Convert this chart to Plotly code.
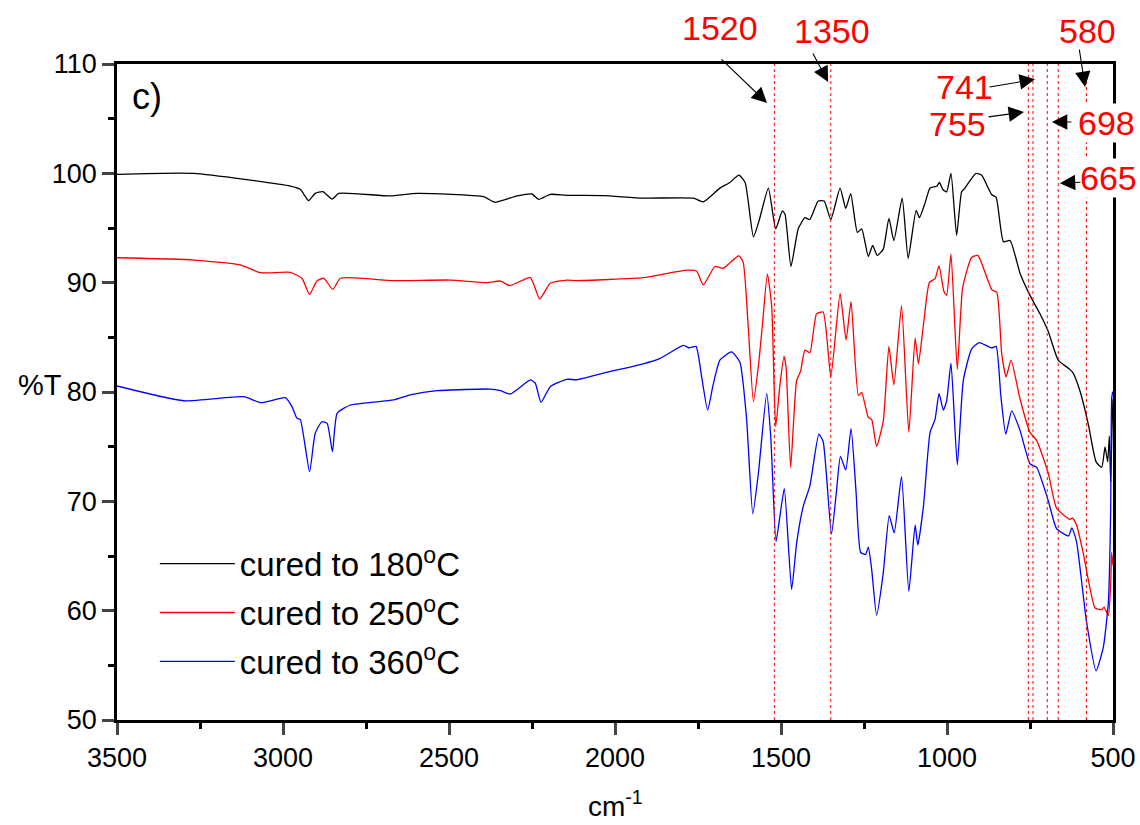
import plotly.graph_objects as go

# ---------------- data ----------------
black_x = [3500, 3269, 2978, 2948, 2923, 2903, 2880, 2852, 2832, 2677, 2596, 2396, 2361, 2295, 2250, 2230,
           2195, 2145, 2035, 1915, 1764, 1734, 1684, 1654, 1627, 1608, 1583, 1565, 1538, 1516, 1496, 1488,
           1470, 1448, 1428, 1413, 1388, 1370, 1350, 1322, 1305, 1290, 1270, 1257, 1237, 1224, 1210, 1192,
           1175, 1160, 1135, 1117, 1093, 1083, 1066, 1051, 1031, 1023, 1012, 1001, 988, 971, 956, 946, 913,
           896, 865, 852, 830, 810, 780, 750, 720, 695, 665, 630, 620, 599, 574, 551, 534, 524, 516, 511,
           507, 503, 500]
black_y = [99.91, 100.0, 98.84, 98.54, 97.5, 98.17, 98.32, 97.65, 98.17, 97.93, 98.17, 97.87, 97.35, 97.93,
           98.11, 97.62, 98.08, 97.99, 97.97, 97.73, 97.73, 97.39, 98.65, 99.16, 99.84, 99.16, 94.19, 95.78,
           98.65, 94.93, 96.56, 96.28, 91.48, 94.93, 95.94, 95.78, 97.47, 97.47, 95.78, 98.65, 96.79, 98.15,
           94.59, 94.93, 92.39, 93.41, 92.49, 93.07, 95.88, 93.85, 97.73, 92.22, 96.62, 95.94, 97.30, 98.65,
           98.82, 99.16, 98.5, 98.31, 100.0, 94.32, 98.31, 98.65, 100.0, 99.84, 98.04, 97.81, 93.75, 93.85,
           90.87, 88.84, 87.15, 85.53, 82.92, 82.07, 81.73, 80.04, 77.0, 73.61, 73.11, 74.97, 73.61, 75.97,
           71.75, 76.65, 79.36]

red_x = [3500, 3269, 3129, 3068, 2978, 2943, 2920, 2898, 2877, 2850, 2827, 2667, 2496, 2386, 2345, 2317,
         2255, 2227, 2195, 2145, 2115, 1915, 1784, 1754, 1734, 1699, 1674, 1627, 1614, 1599, 1583, 1568,
         1556, 1541, 1528, 1516, 1503, 1491, 1485, 1471, 1453, 1441, 1428, 1413, 1393, 1373, 1350, 1322,
         1304, 1289, 1267, 1257, 1237, 1227, 1212, 1192, 1175, 1160, 1137, 1115, 1096, 1086, 1071, 1053,
         1036, 1024, 1009, 1001, 988, 969, 953, 926, 907, 865, 850, 835, 822, 807, 780, 750, 730, 695, 670,
         630, 622, 610, 590, 554, 534, 527, 514, 507, 504, 500]
red_y = [92.28, 92.07, 91.62, 90.91, 90.94, 90.40, 88.93, 90.15, 90.40, 89.39, 90.40, 90.18, 90.24, 90.0,
         90.15, 89.73, 90.46, 88.51, 89.94, 90.24, 90.19, 90.46, 91.14, 91.04, 89.79, 91.48, 91.31, 92.46,
         91.88, 86.13, 79.1, 82.4, 86.13, 90.8, 87.82, 76.83, 80.72, 83.26, 82.4, 73.1, 81.05, 81.9, 83.83,
         83.59, 87.15, 87.31, 81.39, 89.01, 84.77, 88.26, 79.7, 79.97, 77.67, 77.5, 75.03, 77.33, 84.17,
         80.65, 87.89, 76.31, 84.95, 82.58, 86.13, 90.02, 90.36, 91.54, 89.17, 88.84, 92.63, 82.07, 89.51,
         92.3, 92.49, 89.35, 89.11, 83.42, 81.39, 82.92, 79.36, 76.31, 75.57, 72.59, 69.38, 68.36, 68.47,
         67.85, 65.32, 60.24, 60.08, 60.33, 59.57, 62.44, 65.32, 64.13]

blue_x = [3500, 3299, 3118, 3066, 2993, 2973, 2958, 2948, 2920, 2903, 2883, 2867, 2851, 2837, 2797, 2667,
          2617, 2536, 2376, 2345, 2315, 2255, 2240, 2223, 2195, 2145, 2115, 2035, 1915, 1864, 1794, 1776,
          1756, 1739, 1721, 1704, 1684, 1649, 1624, 1604, 1585, 1568, 1543, 1531, 1515, 1503, 1490, 1468,
          1453, 1433, 1413, 1386, 1373, 1348, 1333, 1321, 1305, 1289, 1274, 1260, 1245, 1237, 1227, 1212,
          1192, 1174, 1159, 1137, 1115, 1096, 1088, 1071, 1051, 1036, 1024, 1011, 1001, 988, 969, 951, 926,
          903, 865, 852, 838, 823, 805, 780, 750, 730, 695, 670, 634, 624, 610, 580, 551, 529, 514, 507, 504,
          501]
blue_y = [80.55, 79.20, 79.57, 79.02, 79.48, 78.66, 77.59, 77.50, 72.71, 76.22, 77.28, 77.13, 74.54, 78.05,
          78.81, 79.27, 79.73, 80.12, 80.27, 80.12, 79.82, 81.10, 80.80, 79.06, 80.49, 81.16, 81.12, 81.73,
          82.58, 83.08, 84.27, 84.03, 84.17, 81.39, 78.34, 80.72, 82.92, 83.66, 82.74, 77.67, 68.87, 72.59,
          79.87, 75.97, 66.33, 68.7, 71.17, 61.93, 66.16, 69.54, 71.41, 76.15, 75.47, 67.0, 70.9, 74.12,
          72.87, 76.65, 70.9, 65.32, 65.15, 65.82, 63.8, 59.57, 63.45, 68.7, 67.11, 72.26, 61.76, 67.85, 66.0,
          69.54, 76.31, 77.5, 79.87, 78.34, 79.19, 82.64, 73.34, 81.05, 83.93, 84.51, 84.03, 84.17, 79.7,
          76.15, 78.28, 76.49, 73.44, 73.11, 70.06, 67.51, 66.84, 67.58, 66.33, 59.05, 54.5, 56.69, 60.75,
          69.2, 79.36, 80.04]

series_names = ["cured to 180<sup>o</sup>C", "cured to 250<sup>o</sup>C", "cured to 360<sup>o</sup>C"]
series_colors = ["#000000", "#ff0000", "#0000ff"]

peak_positions = [1520, 1350, 755, 741, 698, 665, 580]
peak_labels = ["1520", "1350", "755", "741", "698", "665", "580"]
peak_line_top = [110, 110, 110, 110, 110, 110, 108.8]

# label layout (data x, paper y)
label_x = [1684, 1346, 967, 946, 521, 515, 578]
label_y = [1.055, 1.050, 0.909, 0.965, 0.910, 0.826, 1.050]
label_bg = [False, False, False, False, True, True, False]
# arrow heads (data x, data y) and tail offsets (px)
arrow_x = [1542, 1358, 768, 735, 684, 660, 584]
arrow_y = [106.43, 108.35, 105.6, 108.6, 104.7, 99.1, 107.9]
arrow_ax = [-47, -16, -37, -47, 21, 22, -6]
arrow_ay = [-45, -30, 5, 8, 0, -1, -39]

x_ticks = [3500, 3000, 2500, 2000, 1500, 1000, 500]
y_ticks = [50, 60, 70, 80, 90, 100, 110]

FONT = "Liberation Sans, Arial, sans-serif"

fig = go.Figure()
for i, (xs, ys, name, col) in enumerate(zip([black_x, red_x, blue_x], [black_y, red_y, blue_y],
                                             series_names, series_colors)):
    fig.add_trace(go.Scatter(x=xs, y=ys, mode="lines", name=name, legendgroup="g%d" % i,
                             line=dict(color=col, width=1.3, shape="spline", smoothing=0.5)))

for xp, top in zip(peak_positions, peak_line_top):
    fig.add_shape(type="line", xref="x", yref="y", x0=xp, x1=xp, y0=50, y1=top,
                  line=dict(color="#ff0000", width=1, dash="3px,3px"), layer="above")

annotations = []
for t, lx, ly, bg in zip(peak_labels, label_x, label_y, label_bg):
    annotations.append(dict(text=t, x=lx, y=ly, xref="x", yref="paper", showarrow=False,
                            font=dict(family=FONT, size=34, color="#ff0000"),
                            bgcolor="white" if bg else "rgba(0,0,0,0)",
                            xanchor="center", yanchor="middle", borderpad=0))
for hx, hy, ax, ay in zip(arrow_x, arrow_y, arrow_ax, arrow_ay):
    annotations.append(dict(text="", x=hx, y=hy, xref="x", yref="y", showarrow=True,
                            ax=ax, ay=ay, axref="pixel", ayref="pixel",
                            arrowhead=2, arrowsize=2.8, arrowwidth=1.1, arrowcolor="black", standoff=0))
annotations.append(dict(text="c)", x=0.030, y=0.950, xref="paper", yref="paper", showarrow=False,
                        font=dict(family=FONT, size=36, color="black"), xanchor="center", yanchor="middle"))
annotations.append(dict(text="%T", x=-0.077, y=0.511, xref="paper", yref="paper", showarrow=False,
                        font=dict(family=FONT, size=29, color="black"), xanchor="center", yanchor="middle"))
annotations.append(dict(text="cm<sup>-1</sup>", x=0.5, y=-0.128, xref="paper", yref="paper", showarrow=False,
                        font=dict(family=FONT, size=28, color="black"), xanchor="center", yanchor="middle"))

fig.update_layout(
    width=1140, height=825,
    margin=dict(l=117, r=27, t=64, b=105, autoexpand=False),
    paper_bgcolor="white", plot_bgcolor="white",
    font=dict(family=FONT, size=27, color="black"),
    showlegend=True,
    legend=dict(x=0.038, y=0.281, xanchor="left", yanchor="top", bgcolor="rgba(0,0,0,0)",
                font=dict(family=FONT, size=33, color="black"), itemwidth=75, tracegroupgap=3),
    annotations=annotations,
    xaxis=dict(range=[3500, 500], tickvals=x_ticks, ticks="outside", ticklen=12, tickwidth=2.5,
               showline=True, linewidth=2.5, linecolor="black", mirror=True, showgrid=False,
               zeroline=False, automargin=False, tickfont=dict(family=FONT, size=27),
               minor=dict(dtick=250, ticks="outside", ticklen=6, tickwidth=2.5, tickcolor="black", showgrid=False)),
    yaxis=dict(range=[50, 110], tickvals=y_ticks, ticks="outside", ticklen=12, tickwidth=2.5,
               showline=True, linewidth=2.5, linecolor="black", mirror=True, showgrid=False,
               zeroline=False, automargin=False, tickfont=dict(family=FONT, size=27),
               minor=dict(dtick=5, ticks="outside", ticklen=6, tickwidth=2.5, tickcolor="black", showgrid=False)),
)

fig.write_html("out.html")
